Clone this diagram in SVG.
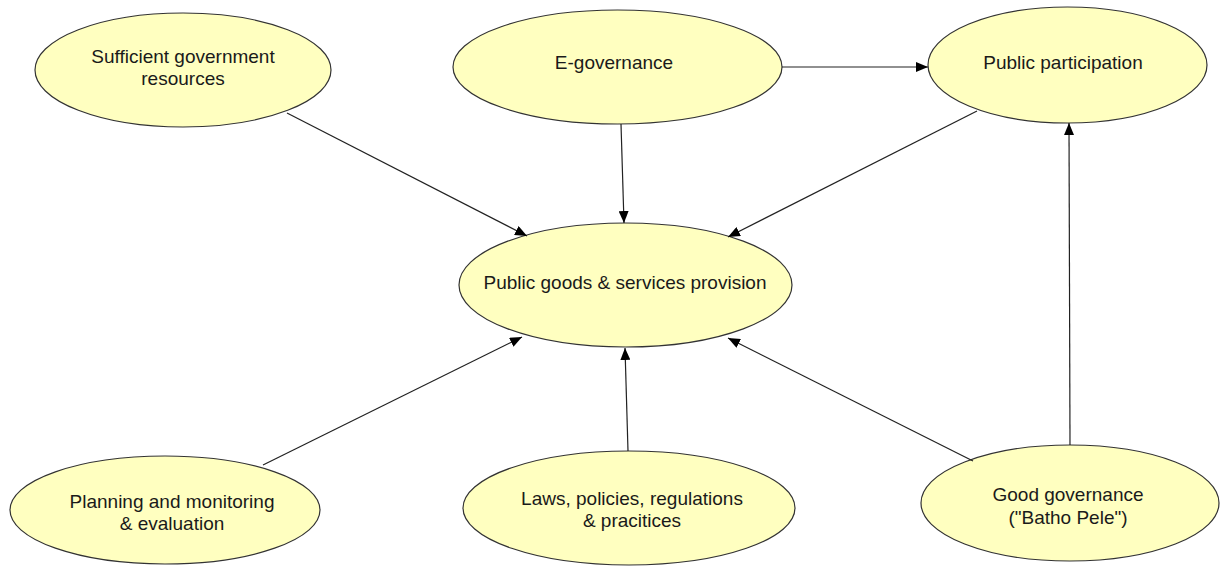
<svg xmlns="http://www.w3.org/2000/svg" width="1220" height="566" viewBox="0 0 1220 566">
<style>
.node ellipse{fill:#FFFFC0;stroke:#333333;stroke-width:1.2}
.node text{font-family:"Liberation Sans",Arial,sans-serif;font-size:19px;fill:#1a1a1a;text-anchor:middle}
.conn line{stroke:#222222;stroke-width:1.2;fill:none;marker-end:url(#ah)}
</style>
<defs>
<marker id="ah" markerUnits="userSpaceOnUse" markerWidth="12" markerHeight="10" refX="12" refY="5" orient="auto">
<path d="M0,0 L12,5 L0,10 z" fill="#000000"/>
</marker>
</defs>
<rect width="1220" height="566" fill="#ffffff"/>
<g id="sufficient" class="node"><ellipse cx="183" cy="70" rx="148" ry="57"/><text x="183" y="63">Sufficient government</text><text x="183" y="85">resources</text></g>
<g id="egov" class="node"><ellipse cx="617.5" cy="67" rx="164.5" ry="57"/><text x="614" y="69">E-governance</text></g>
<g id="participation" class="node"><ellipse cx="1067.5" cy="65" rx="139.5" ry="58"/><text x="1063" y="69">Public participation</text></g>
<g id="provision" class="node"><ellipse cx="625.5" cy="285" rx="166.5" ry="62"/><text x="625" y="289">Public goods &amp; services provision</text></g>
<g id="planning" class="node"><ellipse cx="165" cy="510" rx="155" ry="54"/><text x="172" y="508">Planning and monitoring</text><text x="172" y="530">&amp; evaluation</text></g>
<g id="laws" class="node"><ellipse cx="629" cy="508" rx="166" ry="57"/><text x="632" y="505">Laws, policies, regulations</text><text x="632" y="527">&amp; pracitices</text></g>
<g id="goodgov" class="node"><ellipse cx="1070" cy="503" rx="149" ry="58"/><text x="1068" y="501">Good governance</text><text x="1068" y="524">("Batho Pele")</text></g>
<g id="connectors" class="conn">
<line x1="287" y1="113" x2="527" y2="236"/>
<line x1="621" y1="124" x2="624" y2="223"/>
<line x1="782" y1="67" x2="928" y2="67"/>
<line x1="977" y1="111" x2="728" y2="237"/>
<line x1="1070" y1="445" x2="1069" y2="123"/>
<line x1="973" y1="461" x2="728" y2="338"/>
<line x1="628" y1="451" x2="625" y2="348"/>
<line x1="263" y1="465" x2="522" y2="337"/>
</g>
</svg>
